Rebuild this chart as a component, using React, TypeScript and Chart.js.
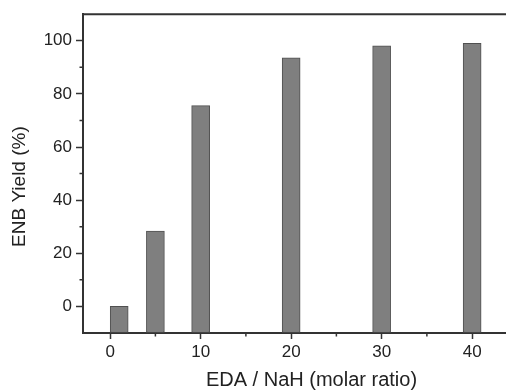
import React, { useEffect, useRef } from 'react';
import { Chart, registerables } from 'chart.js';

Chart.register(...registerables);

// EDA / NaH molar ratio (x positions of bars)
const ratioValues = [1, 5, 10, 20, 30, 40];
// ENB yield (%)
const yieldValues = [0, 28.4, 75.6, 93.6, 98.1, 99.0];
// minor tick positions
const xMinorTicks = [5, 15, 25, 35, 45];
const yMinorTicks = [10, 30, 50, 70, 90];

const xTitle = 'EDA / NaH (molar ratio)';
const yTitle = 'ENB Yield (%)';

const FONT = '"Liberation Sans", Arial, Helvetica, sans-serif';
const TEXT = '#222222';
const AXIS = '#333333';

const framePlugin = {
  id: 'frameAndMinor',
  afterDraw(chart: any) {
    const { ctx, chartArea: a, scales } = chart;
    const x = scales.x;
    const y = scales.y;
    ctx.save();
    ctx.strokeStyle = AXIS;
    ctx.lineWidth = 2;
    ctx.beginPath();
    ctx.moveTo(a.left - 1, a.top);
    ctx.lineTo(a.right, a.top);
    ctx.stroke();
    ctx.lineWidth = 1.5;
    ctx.beginPath();
    xMinorTicks.forEach((v) => {
      const px = x.getPixelForValue(v);
      ctx.moveTo(px, a.bottom);
      ctx.lineTo(px, a.bottom + 3.5);
    });
    yMinorTicks.forEach((v) => {
      const py = y.getPixelForValue(v);
      ctx.moveTo(a.left, py);
      ctx.lineTo(a.left - 3.5, py);
    });
    ctx.stroke();
    // y axis title
    ctx.translate(20, (a.top + a.bottom) / 2 + 13);
    ctx.rotate(-Math.PI / 2);
    ctx.font = `19px ${FONT}`;
    ctx.fillStyle = TEXT;
    ctx.textAlign = 'center';
    ctx.textBaseline = 'middle';
    ctx.fillText(yTitle, 0, 0);
    ctx.restore();
  },
};

export default function App() {
  const ref = useRef<HTMLCanvasElement | null>(null);

  useEffect(() => {
    if (!ref.current) return;
    const chart = new Chart(ref.current, {
      type: 'bar',
      data: {
        datasets: [
          {
            data: ratioValues.map((r, i) => ({ x: r, y: yieldValues[i] })),
            backgroundColor: '#7f7f7f',
            borderColor: '#505050',
            borderWidth: 1,
            borderSkipped: false,
            barThickness: 18,
            base: -10,
          } as any,
        ],
      },
      options: {
        animation: false,
        responsive: false,
        maintainAspectRatio: false,
        layout: { padding: { top: 13, left: 0, right: 0, bottom: 0 } },
        plugins: {
          legend: { display: false },
          tooltip: { enabled: false },
        },
        scales: {
          x: {
            type: 'linear',
            min: -3,
            max: 47.5,
            offset: false,
            grid: {
              offset: false,
              drawOnChartArea: false,
              drawTicks: true,
              tickLength: 6,
              tickWidth: 1.5,
              tickColor: (c: any) =>
                c.tick && c.tick.value % 10 === 0 ? AXIS : 'rgba(0,0,0,0)',
            },
            border: { display: true, color: AXIS, width: 2 },
            ticks: {
              stepSize: 5,
              includeBounds: false,
              autoSkip: false,
              maxRotation: 0,
              padding: 3,
              color: TEXT,
              font: { family: FONT, size: 17 },
              callback: (v: any) => (Number(v) % 10 === 0 ? String(v) : ''),
            },
            title: {
              display: true,
              text: xTitle,
              color: TEXT,
              font: { family: FONT, size: 20, lineHeight: 1.1 },
              padding: { top: 0, bottom: 0 },
            },
            afterFit: (s: any) => {
              s.height = 58;
            },
          } as any,
          y: {
            type: 'linear',
            min: -10,
            max: 110,
            grid: {
              drawOnChartArea: false,
              drawTicks: true,
              tickLength: 7,
              tickWidth: 1.5,
              tickColor: (c: any) =>
                c.tick && c.tick.value % 20 === 0 ? AXIS : 'rgba(0,0,0,0)',
            },
            border: { display: true, color: AXIS, width: 2 },
            ticks: {
              stepSize: 10,
              autoSkip: false,
              padding: 4,
              color: TEXT,
              font: { family: FONT, size: 17 },
              callback: (v: any) => (Number(v) % 20 === 0 ? String(v) : ''),
            },
            afterFit: (s: any) => {
              s.width = 83;
            },
          } as any,
        },
      },
      plugins: [framePlugin],
    });
    return () => chart.destroy();
  }, []);

  return (
    <div
      style={{
        position: 'fixed',
        left: 0,
        top: 0,
        width: 506,
        height: 391,
        overflow: 'hidden',
        background: '#ffffff',
      }}
    >
      <canvas ref={ref} width={540} height={391} style={{ display: 'block' }} />
    </div>
  );
}
